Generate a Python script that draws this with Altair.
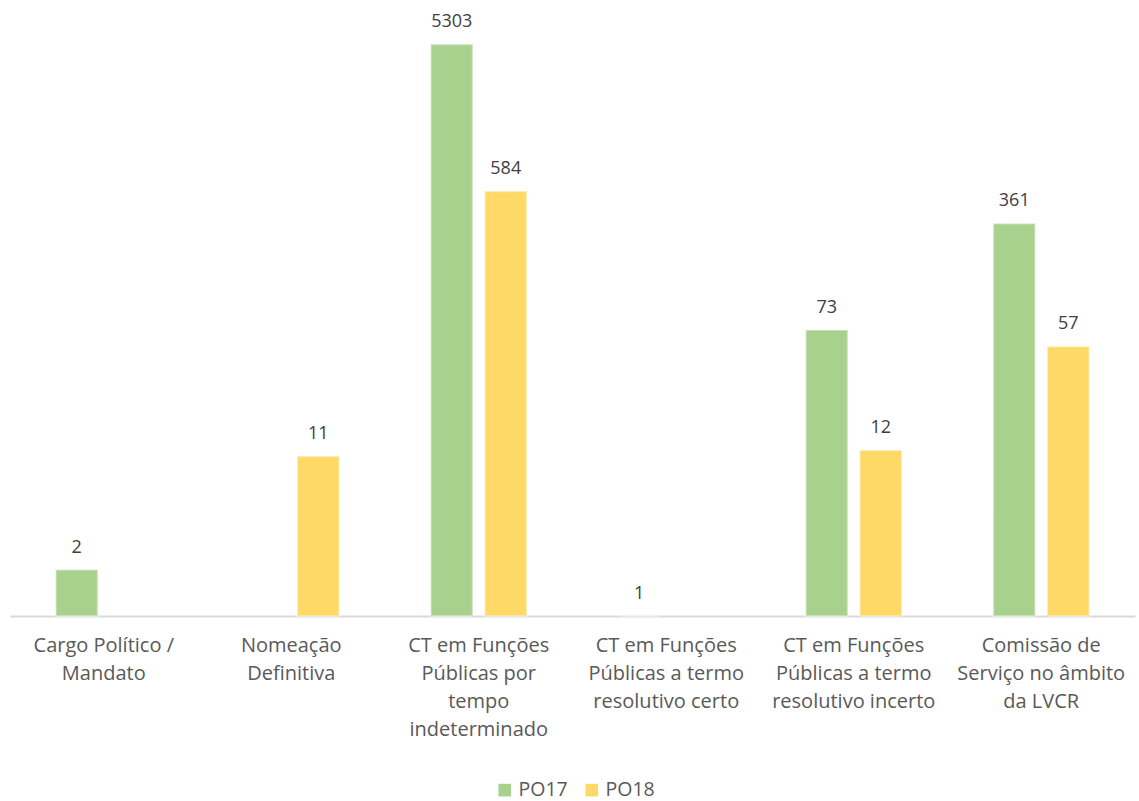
import altair as alt
import pandas as pd

categories = [
    "Cargo Político /|Mandato",
    "Nomeação|Definitiva",
    "CT em Funções|Públicas por|tempo|indeterminado",
    "CT em Funções|Públicas a termo|resolutivo certo",
    "CT em Funções|Públicas a termo|resolutivo incerto",
    "Comissão de|Serviço no âmbito|da LVCR",
]
series = ["PO17", "PO18"]
po17 = [2, None, 5303, 1, 73, 361]
po18 = [None, 11, 584, None, 12, 57]
colors = ["#A9D18E", "#FFD966"]

rows = []
for i, c in enumerate(categories):
    rows.append({"cat": c, "serie": "PO17", "valor": po17[i]})
    rows.append({"cat": c, "serie": "PO18", "valor": po18[i]})
df = pd.DataFrame(rows).dropna()

FONT = "Open Sans"

x = alt.X("cat:N", sort=categories, title=None,
          scale=alt.Scale(paddingInner=0.488, paddingOuter=0.244),
          axis=alt.Axis(labelExpr="split(datum.label, '|')", labelAngle=0,
                        labelFont=FONT, labelFontSize=20, labelColor="#595959",
                        labelLineHeight=28, labelPadding=19, labelBaseline="top",
                        ticks=False, domainColor="#D9D9D9", domainWidth=2,
                        labelLimit=300))
xo = alt.XOffset("serie:N", sort=series, scale=alt.Scale(paddingInner=0.222))
y = alt.Y("valor:Q", title=None,
          scale=alt.Scale(type="log", domain=[1, 10000]),
          axis=None)

base = alt.Chart(df)

bars = base.mark_bar(stroke="white", strokeOpacity=0.35, strokeWidth=2).encode(
    x=x, xOffset=xo, y=y, y2=alt.datum(1),
    color=alt.Color("serie:N", sort=series,
                    scale=alt.Scale(domain=series, range=colors),
                    legend=alt.Legend(title=None, orient="none", direction="horizontal",
                                      legendX=485, legendY=778,
                                      symbolType="square", symbolSize=160,
                                      symbolStrokeWidth=0,
                                      labelFont=FONT, labelFontSize=19.5,
                                      labelColor="#595959", columnPadding=14,
                                      labelOffset=4)),
)

labels = base.mark_text(font=FONT, fontSize=18, color="#404040",
                        baseline="alphabetic", dy=-17).encode(
    x=x, xOffset=xo, y=y, text=alt.Text("valor:Q", format="d"),
)

chart = (bars + labels).properties(
    width=1125, height=614,
    autosize=alt.AutoSizeParams(type="none"),
    padding={"left": 10, "top": 2, "right": 4, "bottom": 185},
).configure(background="white").configure_view(stroke=None)

chart.save("out.html", embed_options={"renderer": "svg", "actions": False})
